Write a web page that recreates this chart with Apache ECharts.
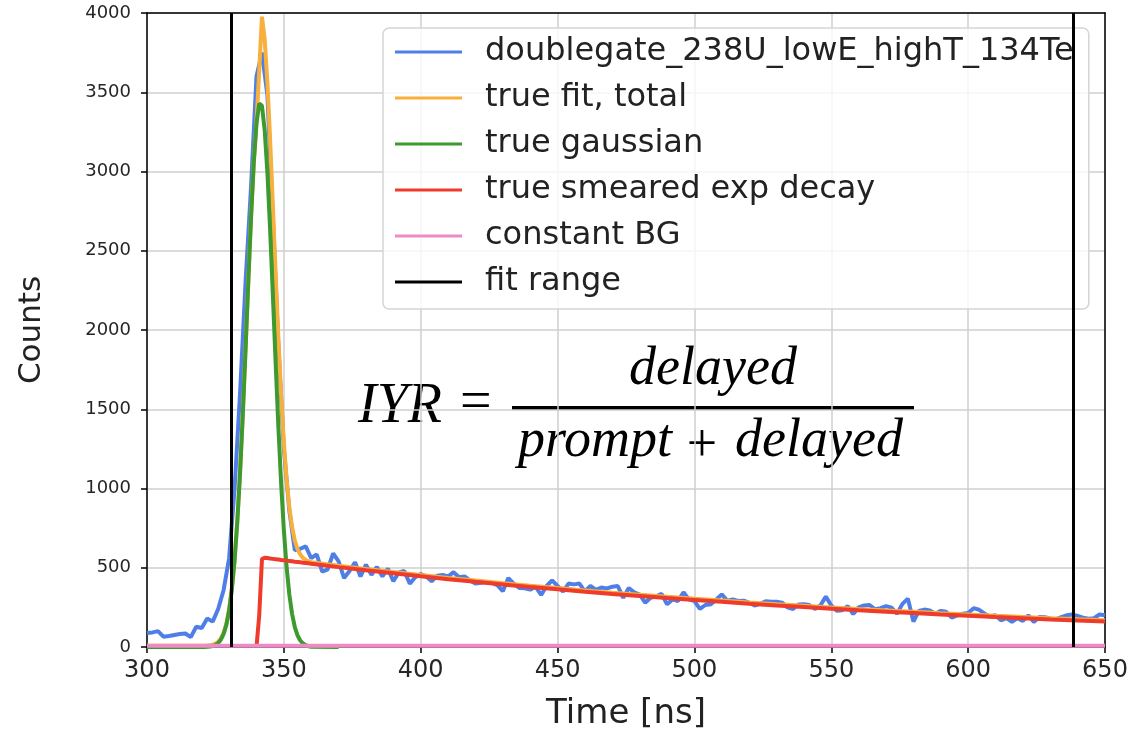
<!DOCTYPE html>
<html>
<head>
<meta charset="utf-8">
<script src="https://cdn.jsdelivr.net/npm/echarts@6/dist/echarts.min.js"></script>
<style>html,body{margin:0;padding:0;background:#fff}#c{width:1139px;height:736px}</style>
</head>
<body>
<div id="c"></div>
<script>
// ---- data ----
const binStart = 300, binWidth = 2;
const dataCounts = [
  88,92,100,65,70,76,82,85,62,128,
  120,180,160,240,360,560,1000,1600,2300,2900,
  3600,3750,3480,2700,1900,1250,860,610,620,635,
  560,585,475,490,590,540,435,480,535,445,
  520,455,505,445,495,415,470,480,400,440,
  460,445,415,450,455,445,472,440,445,420,
  400,405,410,405,390,352,435,400,372,370,
  362,380,328,385,420,385,350,400,395,400,
  350,385,360,375,370,380,385,310,372,345,
  330,280,310,320,335,270,300,290,345,300,
  290,240,265,270,300,332,292,300,290,292,
  280,262,272,288,285,285,280,250,240,268,
  270,265,240,262,318,262,228,232,258,208,
  250,262,265,238,245,258,248,210,272,305,
  160,228,236,230,210,228,222,185,200,210,
  215,245,235,210,192,200,168,182,158,182,
  165,200,158,190,188,180,175,188,200,205,
  196,185,178,182,205,200
];
const fitTimes = [300,310,
  320,321,322,323,324,325,326,327,328,329,
  330,331,332,333,334,335,336,337,338,339,
  340,341,342,343,344,345,346,347,348,349,
  350,351,352,353,354,355,356,357,358,359,360,
  370,380,390,400,410,420,430,440,450,460,470,480,490,500,510,520,530,540,550,560,570,580,590,600,610,620,630,640,650];
const gaussVals = [0,0,
  0,0,1,3,6,13,25,46,82,140,
  229,362,546,791,1099,1466,1874,2298,2704,3051,
  3303,3429,3414,3261,2988,2626,2214,1790,1388,1033,
  737,504,331,209,126,73,41,22,11,5,2,
  0,null,null,null,null,null,null,null,null,null,null,null,null,null,null,null,null,null,null,null,null,null,null,null,null,null,null,null,null];
const decayVals = [null,null,
  null,null,null,null,null,null,null,null,null,null,
  null,null,null,null,null,null,null,null,null,null,
  0,200,555,563,561,558,556,554,552,549,
  547,545,543,541,538,536,534,532,530,528,525,
  504,484,465,446,428,411,395,379,364,349,335,322,309,297,285,273,262,252,242,232,223,214,205,197,189,182,174,167,161];
const totalVals = [8,8,
  8,8,9,11,14,21,33,54,90,148,
  237,370,554,799,1107,1474,1882,2306,2712,3059,
  3311,3637,3977,3832,3557,3192,2778,2352,1948,1590,
  1292,1057,882,758,672,617,583,562,549,541,535,
  512,492,473,454,436,419,403,387,372,357,343,330,317,305,293,281,270,260,250,240,231,222,213,205,197,190,182,175,169];
const constantBG = 8;
const fitRange = [330.7, 638.3];
const seriesNames = ['doublegate_238U_lowE_highT_134Te','true fit, total','true gaussian','true smeared exp decay','constant BG','fit range'];
const xMin = 300, xMax = 650, xStep = 50;
const yMin = 0, yMax = 4000, yStep = 500;

// ---- build ----
const pairs = (xs, ys) => xs.map((x, i) => [x, ys[i] === null ? '-' : ys[i]]);
const dataXY = dataCounts.map((v, i) => [binStart + i * binWidth, v]);
const colors = ['#4f7fe6', '#f7b03c', '#3c9a2e', '#ef3b2c', '#ee8bc7', '#000000'];

const chart = echarts.init(document.getElementById('c'), null, {renderer: 'canvas'});
const lineSeries = (name, data, color) => ({
  name, type: 'line', data, symbol: 'none', showSymbol: false, color, connectNulls: false,
  lineStyle: {color, width: 4}, emphasis: {disabled: true}, silent: true
});
const FONT = 'DejaVu Sans';
const SERIF = '"Liberation Serif", "Times New Roman", serif';
const frameAxisLine = {show: true, onZero: false, lineStyle: {color: '#000', width: 1.5}};

chart.setOption({
  animation: false,
  backgroundColor: '#fff',
  grid: {left: 147, right: 34, top: 13, bottom: 83, show: false},
  xAxis: [{
    type: 'value', min: xMin, max: xMax, interval: xStep,
    axisLine: frameAxisLine,
    axisTick: {show: true, length: 6, lineStyle: {color: '#000', width: 1.5}},
    axisLabel: {fontSize: 24, color: '#262626', margin: 12, fontFamily: FONT},
    splitLine: {show: true, lineStyle: {color: '#cfcfcf', width: 1.5}},
    name: 'Time [ns]', nameLocation: 'middle', nameGap: 50,
    nameTextStyle: {fontSize: 34, color: '#222', fontFamily: FONT}
  }, {
    type: 'value', position: 'top', min: xMin, max: xMax, interval: xStep,
    axisLine: frameAxisLine, axisTick: {show: false}, axisLabel: {show: false}, splitLine: {show: false}
  }],
  yAxis: [{
    type: 'value', min: yMin, max: yMax, interval: yStep,
    axisLine: frameAxisLine,
    axisTick: {show: true, length: 6, lineStyle: {color: '#000', width: 1.5}},
    axisLabel: {fontSize: 18, color: '#262626', margin: 16, fontFamily: FONT, formatter: v => String(v)},
    splitLine: {show: true, lineStyle: {color: '#cfcfcf', width: 1.5}},
    name: 'Counts', nameLocation: 'middle', nameGap: 100,
    nameTextStyle: {fontSize: 31, color: '#222', fontFamily: FONT}
  }, {
    type: 'value', position: 'right', min: yMin, max: yMax, interval: yStep,
    axisLine: frameAxisLine, axisTick: {show: false}, axisLabel: {show: false}, splitLine: {show: false}
  }],
  legend: {
    orient: 'vertical', left: 383, top: 28,
    data: seriesNames.map(n => ({name: n, icon: 'rect'})),
    itemWidth: 67, itemHeight: 3, itemGap: 12,
    padding: [7, 15, 10, 12],
    backgroundColor: 'rgba(255,255,255,0.8)', borderColor: '#d5d5d5', borderWidth: 1.5, borderRadius: 6,
    textStyle: {fontSize: 32, lineHeight: 34, color: '#222', fontFamily: FONT, padding: [0, 0, 0, 18]},
    selectedMode: false
  },
  series: [
    lineSeries(seriesNames[0], dataXY, colors[0]),
    lineSeries(seriesNames[1], pairs(fitTimes, totalVals), colors[1]),
    lineSeries(seriesNames[2], pairs(fitTimes, gaussVals), colors[2]),
    lineSeries(seriesNames[3], pairs(fitTimes, decayVals), colors[3]),
    lineSeries(seriesNames[4], [[xMin, constantBG], [xMax, constantBG]], colors[4]),
    {
      name: seriesNames[5], type: 'line', data: [], color: colors[5], silent: true,
      markLine: {
        symbol: ['none', 'none'], silent: true, animation: false,
        label: {show: false},
        lineStyle: {color: '#000', width: 3, type: 'solid'},
        emphasis: {disabled: true},
        data: fitRange.map(v => ({xAxis: v}))
      }
    }
  ],
  graphic: [
    {type: 'text', silent: true, x: 358, y: 407, style: {text: 'IYR', font: 'italic 56px ' + SERIF, fill: '#000', align: 'left', verticalAlign: 'middle'}},
    {type: 'text', silent: true, x: 460, y: 404, style: {text: '=', font: '56px ' + SERIF, fill: '#000', align: 'left', verticalAlign: 'middle'}},
    {type: 'rect', silent: true, shape: {x: 512, y: 406, width: 402, height: 4}, style: {fill: '#000'}},
    {type: 'text', silent: true, x: 713, y: 370, style: {text: 'delayed', font: 'italic 54px ' + SERIF, fill: '#000', align: 'center', verticalAlign: 'middle'}},
    {type: 'text', silent: true, x: 672, y: 442, style: {text: 'prompt', font: 'italic 54px ' + SERIF, fill: '#000', align: 'right', verticalAlign: 'middle'}},
    {type: 'text', silent: true, x: 702, y: 447, style: {text: '+', font: '54px ' + SERIF, fill: '#000', align: 'center', verticalAlign: 'middle'}},
    {type: 'text', silent: true, x: 735, y: 442, style: {text: 'delayed', font: 'italic 54px ' + SERIF, fill: '#000', align: 'left', verticalAlign: 'middle'}}
  ]
});
</script>
</body>
</html>
